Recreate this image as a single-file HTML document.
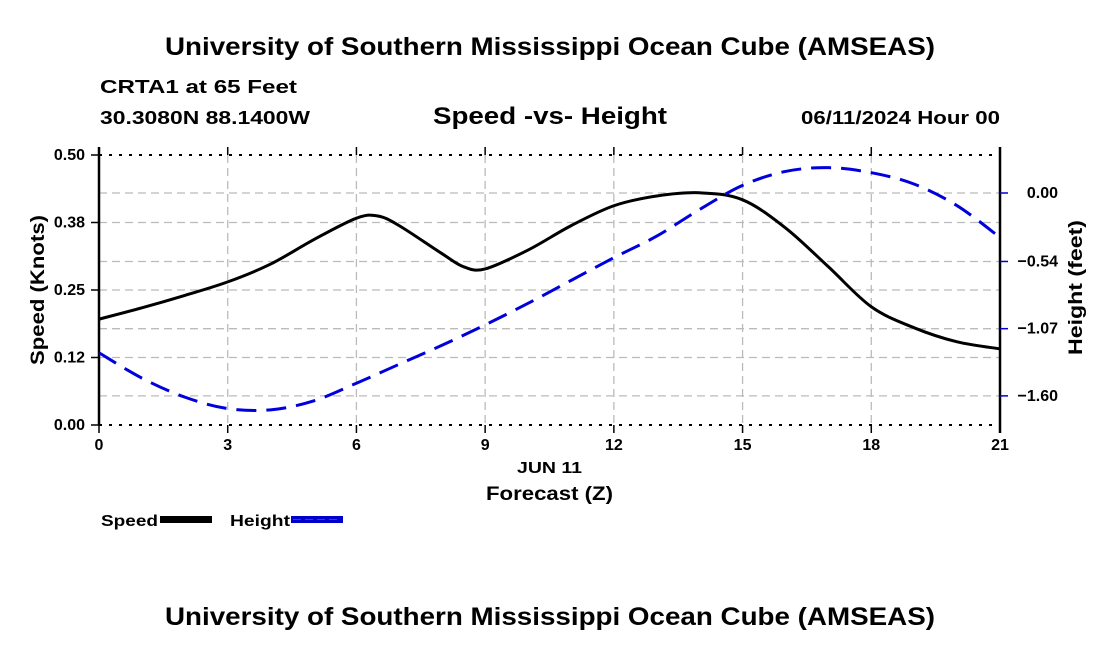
<!DOCTYPE html>
<html><head><meta charset="utf-8"><style>
body{margin:0;background:#fff;}
svg{display:block;font-family:"Liberation Sans",Arial,sans-serif;font-weight:bold;}
</style></head><body>
<svg id="chart" width="1100" height="650" viewBox="0 0 1100 650">
<text x="165" y="55" font-size="25" textLength="770" lengthAdjust="spacingAndGlyphs">University of Southern Mississippi Ocean Cube (AMSEAS)</text>
<text x="100" y="93" font-size="18" textLength="197" lengthAdjust="spacingAndGlyphs">CRTA1 at 65 Feet</text>
<text x="100" y="124" font-size="18" textLength="210" lengthAdjust="spacingAndGlyphs">30.3080N  88.1400W</text>
<text x="433" y="124" font-size="24" textLength="234" lengthAdjust="spacingAndGlyphs">Speed -vs- Height</text>
<text x="801" y="124" font-size="18" textLength="199" lengthAdjust="spacingAndGlyphs">06/11/2024 Hour 00</text>
<g id="grid"></g>
<g id="axes"></g>
<g id="series"></g>
<text x="517" y="473" font-size="16" textLength="65" lengthAdjust="spacingAndGlyphs">JUN 11</text>
<text x="486" y="500" font-size="19" textLength="127" lengthAdjust="spacingAndGlyphs">Forecast (Z)</text>
<text transform="translate(44,365) rotate(-90)" font-size="19" textLength="150" lengthAdjust="spacingAndGlyphs">Speed (Knots)</text>
<text transform="translate(1082,355) rotate(-90)" font-size="19" textLength="135" lengthAdjust="spacingAndGlyphs">Height (feet)</text>
<g><text x="101" y="526" font-size="16" textLength="57" lengthAdjust="spacingAndGlyphs">Speed</text><rect x="160" y="516" width="52" height="7" fill="#000"/></g>
<g><text x="230" y="526" font-size="16" textLength="60" lengthAdjust="spacingAndGlyphs">Height</text><rect x="291" y="516" width="52" height="7" fill="#0000cc"/><line x1="293" y1="519.5" x2="341" y2="519.5" stroke="#3333ff" stroke-width="1" stroke-dasharray="8,4"/></g>
<text x="165" y="625" font-size="25" textLength="770" lengthAdjust="spacingAndGlyphs">University of Southern Mississippi Ocean Cube (AMSEAS)</text>
</svg>
<script>
const hours=[0,1,2,3,4,5,6,6.5,7,8,8.5,9,10,11,12,13,14,15,16,17,18,19,20,21];
const speed=[0.196,0.217,0.24,0.265,0.298,0.343,0.383,0.387,0.369,0.317,0.293,0.289,0.324,0.369,0.406,0.424,0.43,0.417,0.365,0.293,0.219,0.18,0.154,0.141];
const heightHours=[0,1,2,3,4,5,6,7,8,9,10,11,12,13,14,15,16,17,18,19,20,21];
const heightVals=[-1.26,-1.46,-1.61,-1.70,-1.71,-1.64,-1.50,-1.35,-1.20,-1.04,-0.87,-0.69,-0.51,-0.34,-0.13,0.06,0.17,0.20,0.16,0.07,-0.10,-0.35];
const xTicks=[0,3,6,9,12,15,18,21];
const yTicks=[0,0.125,0.25,0.375,0.5];
const yTickLabels=["0.00","0.12","0.25","0.38","0.50"];
const y2Ticks=[0,-0.54,-1.07,-1.60];
const y2TickLabels=["0.00","\u22120.54","\u22121.07","\u22121.60"];

const L=99,R=1000,T=155,B=425,NS="http://www.w3.org/2000/svg";
const x=h=>L+(R-L)*h/21;
const y=v=>B-(B-T)*v/0.5;
const y2=v=>193-v*126.8;
function mk(tag,attrs,parent){const e=document.createElementNS(NS,tag);for(const k in attrs)e.setAttribute(k,attrs[k]);parent.appendChild(e);return e;}
const grid=document.getElementById('grid'),axes=document.getElementById('axes'),series=document.getElementById('series');
xTicks.forEach(h=>{if(h>0&&h<21){const l=mk('line',{x1:x(h),x2:x(h),y1:T,y2:B,stroke:'#bbb','stroke-width':1.3,'stroke-dasharray':'8,5'},grid);

}});
yTicks.forEach(v=>{if(v>0&&v<0.5){const l=mk('line',{x1:L,x2:R,y1:y(v),y2:y(v),stroke:'#bbb','stroke-width':1.3,'stroke-dasharray':'8,5'},grid);

}});
y2Ticks.forEach(v=>{const l=mk('line',{x1:L,x2:R,y1:y2(v),y2:y2(v),stroke:'#bbb','stroke-width':1.3,'stroke-dasharray':'8,5'},grid);

});
mk('line',{x1:L,x2:R,y1:T,y2:T,stroke:'#000','stroke-width':2,'stroke-dasharray':'3,7'},axes);
mk('line',{x1:L,x2:R,y1:B,y2:B,stroke:'#000','stroke-width':2,'stroke-dasharray':'3,7'},axes);
mk('line',{x1:L,x2:L,y1:T-8,y2:B,stroke:'#000','stroke-width':2.5},axes);
mk('line',{x1:R,x2:R,y1:T-8,y2:B+8,stroke:'#000','stroke-width':2.5},axes);
xTicks.forEach(h=>{mk('line',{x1:x(h),x2:x(h),y1:T-8,y2:T,stroke:'#000','stroke-width':1.5},axes);
mk('line',{x1:x(h),x2:x(h),y1:B,y2:B+8,stroke:'#000','stroke-width':1.5},axes);
const t=mk('text',{x:x(h),y:B+25,'text-anchor':'middle','font-size':16},axes);t.textContent=h;

});
yTicks.forEach((v,i)=>{mk('line',{x1:L-8,x2:L,y1:y(v),y2:y(v),stroke:'#000','stroke-width':1.5},axes);
const t=mk('text',{x:L-14,y:y(v)+5,'text-anchor':'end','font-size':16},axes);t.textContent=yTickLabels[i];

});
y2Ticks.forEach((v,i)=>{mk('line',{x1:R,x2:R+8,y1:y2(v),y2:y2(v),stroke:'#0000cc','stroke-width':1.5},axes);
const t=mk('text',{x:R+58,y:y2(v)+5,'text-anchor':'end','font-size':16},axes);t.textContent=y2TickLabels[i];

});
function smooth(pts){let d='M'+pts[0][0]+','+pts[0][1];for(let i=0;i<pts.length-1;i++){const p0=pts[i-1]||pts[i],p1=pts[i],p2=pts[i+1],p3=pts[i+2]||p2;
d+=' C'+(p1[0]+(p2[0]-p0[0])/6)+','+(p1[1]+(p2[1]-p0[1])/6)+' '+(p2[0]-(p3[0]-p1[0])/6)+','+(p2[1]-(p3[1]-p1[1])/6)+' '+p2[0]+','+p2[1];}return d;}
const sp=mk('path',{d:smooth(hours.map((h,i)=>[x(h),y(speed[i])])),fill:'none',stroke:'#000','stroke-width':3},series);


const hp=mk('path',{d:smooth(heightHours.map((h,i)=>[x(h),y2(heightVals[i])])),fill:'none',stroke:'#0000dd','stroke-width':3,'stroke-dasharray':'20,10'},series);


</script>
</body></html>
